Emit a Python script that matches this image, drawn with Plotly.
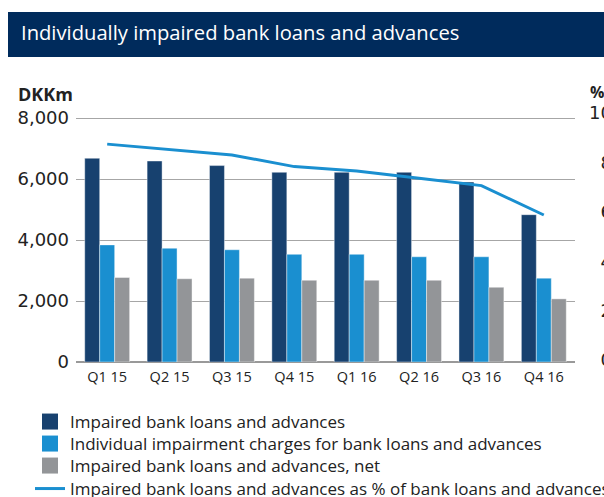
import plotly.graph_objects as go

quarters = ["Q1 15", "Q2 15", "Q3 15", "Q4 15", "Q1 16", "Q2 16", "Q3 16", "Q4 16"]
impaired = [6680, 6590, 6440, 6220, 6220, 6220, 5900, 4830]
impairment_charges = [3840, 3730, 3680, 3530, 3530, 3450, 3450, 2750]
impaired_net = [2770, 2730, 2750, 2680, 2680, 2680, 2450, 2070]
impaired_pct = [8.74, 8.53, 8.30, 7.83, 7.65, 7.36, 7.06, 5.87]

left_ticks = [0, 2000, 4000, 6000, 8000]
right_ticks = [0, 2, 4, 6, 8, 10]
right_ticktext = ["\u20070.0", "\u20072.0", "\u20074.0", "\u20076.0", "\u20078.0", "10.0"]

names = [
    "Impaired bank loans and advances",
    "Individual impairment charges for bank loans and advances",
    "Impaired bank loans and advances, net",
    "Impaired bank loans and advances as % of bank loans and advances",
]

FONT = "Open Sans"
TICKFONT = "DejaVu Sans"
TXT = "#222222"
DARK = "#17416f"
MID = "#1a8fd0"
GREY = "#939598"
LINE = "#1a8fd0"
BANNER = "#002b5c"

W, H = 604, 497
L, R, T, B = 76, 29, 113, 135
PW, PH = W - L - R, H - T - B


def px(x):
    return (x - L) / PW


def py(y):
    return (H - B - y) / PH


# left axis: 0 at y=362, 8000 at y=118 ; plot top at 113
y_top = 8000 * PH / (362 - 118)
# right axis: 0 at y=360, 10 at y=113
r_unit = (360 - 113) / 10
y2_range = [-(H - B - 360) / r_unit, 10]

bar_colors = [DARK, MID, GREY]
bar_series = [impaired, impairment_charges, impaired_net]
legend_ids = ["legend", "legend2", "legend3", "legend4"]
legend_rows = [422, 444, 466, 489]

fig = go.Figure()
for vals, col, nm in zip(bar_series, bar_colors, names[:3]):
    fig.add_trace(go.Bar(
        x=quarters, y=vals, name=nm, xaxis="x", yaxis="y", showlegend=False,
        marker=dict(color=col, line=dict(color="rgba(255,255,255,0.7)", width=0.6)),
    ))

fig.add_trace(go.Scatter(
    x=quarters, y=impaired_pct, name=names[3], xaxis="x", yaxis="y2",
    mode="lines", line=dict(color=LINE, width=3), showlegend=False,
))

# legend entries (symbols only), one legend box per row
for col, nm, lg in zip(bar_colors, names[:3], legend_ids[:3]):
    fig.add_trace(go.Scatter(
        x=[None], y=[None], name=nm, mode="markers", legend=lg,
        marker=dict(symbol="square", size=18, color=col), showlegend=True,
    ))
fig.add_trace(go.Scatter(
    x=[None], y=[None], name=names[3], mode="lines", legend=legend_ids[3],
    line=dict(color=LINE, width=3), showlegend=True,
))

legend_style = dict(
    orientation="v", xref="container", yref="container",
    x=30 / W, xanchor="left", yanchor="middle",
    font=dict(size=17, color=TXT, family=FONT), bgcolor="rgba(0,0,0,0)",
    itemclick=False, itemdoubleclick=False,
)

fig.update_layout(
    width=W, height=H,
    margin=dict(l=L, r=R, t=T, b=B, autoexpand=False),
    paper_bgcolor="white", plot_bgcolor="white",
    font=dict(family=FONT, color=TXT, size=15),
    barmode="group", bargap=0.28, bargroupgap=0,
    xaxis=dict(
        type="category", showgrid=False, showline=False, ticks="",
        tickfont=dict(size=14.5, color=TXT, family=FONT), anchor="y",
        ticklabelstandoff=4, automargin=False,
    ),
    yaxis=dict(
        range=[0, y_top], tickvals=left_ticks, tickformat=",",
        showgrid=True, gridcolor="#a6a6a6", gridwidth=1,
        zeroline=True, zerolinecolor="#999999", zerolinewidth=1.5,
        showline=False, ticks="", tickfont=dict(size=18, color=TXT, family=TICKFONT),
        ticklabelstandoff=6, automargin=False,
    ),
    yaxis2=dict(
        overlaying="y", range=y2_range, tickvals=right_ticks, ticktext=right_ticktext,
        side="right", showgrid=False, zeroline=False, showline=False,
        ticks="", tickfont=dict(size=18, color=TXT, family=TICKFONT),
        ticklabelstandoff=13, automargin=False,
    ),
    showlegend=True,
)
for lg, row in zip(legend_ids, legend_rows):
    fig.update_layout({lg: dict(legend_style, y=1 - row / H)})

fig.add_shape(type="rect", xref="paper", yref="paper",
              x0=px(8), x1=px(620), y0=py(57), y1=py(12),
              fillcolor=BANNER, line=dict(width=0), layer="above")
fig.add_annotation(xref="paper", yref="paper", x=px(19), y=py(32),
                   xanchor="left", yanchor="middle", showarrow=False,
                   text="Individually impaired bank loans and advances",
                   font=dict(size=20.2, color="white", family=FONT))
fig.add_annotation(xref="paper", yref="paper", x=px(16), y=py(94),
                   xanchor="left", yanchor="middle", showarrow=False,
                   text="<b>DKKm</b>", font=dict(size=18, color=TXT, family=FONT))
fig.add_annotation(xref="paper", yref="paper", x=px(588), y=py(92),
                   xanchor="left", yanchor="middle", showarrow=False,
                   text="<b>%</b>", font=dict(size=16, color=TXT, family=FONT))

fig.write_html("out.html")
